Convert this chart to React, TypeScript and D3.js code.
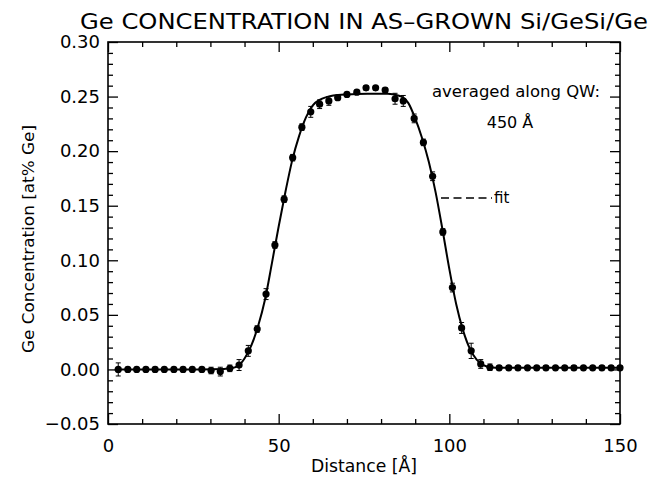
import React, { useRef, useEffect } from "react";
import * as d3 from "d3";

// measured points (distance in Å, Ge fraction) and error bars
const distance = [
  3.0, 5.8, 8.4, 11.1, 13.8, 16.5, 19.3, 22.0, 24.7, 27.5, 30.2, 32.9, 35.7, 38.4,
  41.1, 43.7, 46.3, 48.9, 51.6, 54.1, 56.8, 59.4, 62.0, 64.7, 67.3, 70.0, 72.9,
  75.6, 78.4, 81.2, 84.1, 86.5, 89.7, 92.4, 95.1, 98.1, 100.9, 103.6, 106.4,
  109.2, 111.9, 114.6, 117.4, 120.1, 122.9, 125.6, 128.3, 131.1, 133.8, 136.5,
  139.3, 142.0, 144.7, 147.4, 150.0,
];
const concentration = [
  0.0, 0.0, 0.0, 0.0, 0.0, 0.0, 0.0, 0.0, 0.0, 0.0, -0.001, -0.002, 0.001, 0.004,
  0.017, 0.037, 0.069, 0.114, 0.156, 0.194, 0.222, 0.236, 0.243, 0.246, 0.249,
  0.252, 0.254, 0.258, 0.258, 0.256, 0.248, 0.246, 0.23, 0.208, 0.177, 0.126,
  0.075, 0.038, 0.017, 0.005, 0.002, 0.0015, 0.0015, 0.0015, 0.0015, 0.0015,
  0.0015, 0.0015, 0.0015, 0.0015, 0.0015, 0.0015, 0.0015, 0.0015, 0.0015,
];
const errors = [
  0.006, 0.002, 0.002, 0.002, 0.002, 0.002, 0.002, 0.002, 0.002, 0.002, 0.003,
  0.004, 0.003, 0.005, 0.005, 0.003, 0.005, 0.003, 0.003, 0.003, 0.003, 0.005,
  0.004, 0.004, 0.002, 0.002, 0.002, 0.002, 0.002, 0.002, 0.005, 0.005, 0.004,
  0.003, 0.004, 0.003, 0.004, 0.005, 0.007, 0.004, 0.003, 0.002, 0.002, 0.002,
  0.002, 0.002, 0.002, 0.002, 0.002, 0.002, 0.002, 0.002, 0.002, 0.002, 0.002,
];

// fit curve
const fitX = [
  2, 20, 34, 36, 38, 40, 42, 44, 46, 48, 50, 52, 54, 56, 58, 60, 62, 64, 66, 70,
  76, 82, 85, 86, 88, 90, 92, 94, 96, 98, 100, 102, 104, 106, 108, 110, 112, 115,
  130, 150,
];
const fitY = [
  0, 0, 0.0005, 0.001, 0.003, 0.01, 0.022, 0.04, 0.064, 0.097, 0.131, 0.163,
  0.192, 0.214, 0.231, 0.242, 0.247, 0.2495, 0.251, 0.252, 0.2525, 0.2525, 0.251,
  0.25, 0.244, 0.23, 0.212, 0.19, 0.162, 0.128, 0.092, 0.06, 0.036, 0.019, 0.009,
  0.004, 0.002, 0.0015, 0.0015, 0.0015,
];

const xMajor = [0, 50, 100, 150];
const xMinor = [10, 20, 30, 40, 60, 70, 80, 90, 110, 120, 130, 140];
const yMajor = [-0.05, 0, 0.05, 0.1, 0.15, 0.2, 0.25, 0.3];
const yMinor = [
  -0.04, -0.03, -0.02, -0.01, 0.01, 0.02, 0.03, 0.04, 0.06, 0.07, 0.08, 0.09,
  0.11, 0.12, 0.13, 0.14, 0.16, 0.17, 0.18, 0.19, 0.21, 0.22, 0.23, 0.24, 0.26,
  0.27, 0.28, 0.29,
];

const font = "'DejaVu Sans', sans-serif";

const App = () => {
  const svgRef = useRef<SVGSVGElement>(null);

  useEffect(() => {
    const svg = d3.select(svgRef.current);
    svg.selectAll("*").remove();

    const left = 108, right = 620, top = 42, bottom = 424;
    const x = d3.scaleLinear().domain([0, 150]).range([left, right]);
    const y = d3.scaleLinear().domain([-0.05, 0.3]).range([bottom, top]);

    // axes, ticks inward
    const styleAxis = (g) => {
      g.select(".domain").remove();
      g.selectAll("line").attr("stroke", "#000").attr("stroke-width", 1.3);
      g.selectAll("text").attr("font-family", font).attr("font-size", 18).attr("fill", "#000");
    };

    svg.append("g").attr("transform", `translate(0,${bottom})`)
      .call(d3.axisBottom(x).tickValues(xMajor).tickSize(-10).tickPadding(15).tickFormat(d3.format("d")))
      .call(styleAxis);
    svg.append("g").attr("transform", `translate(0,${bottom})`)
      .call(d3.axisBottom(x).tickValues(xMinor).tickSize(-5).tickFormat(() => ""))
      .call(styleAxis);
    svg.append("g").attr("transform", `translate(0,${top})`)
      .call(d3.axisTop(x).tickValues(xMajor).tickSize(-10).tickFormat(() => ""))
      .call(styleAxis);
    svg.append("g").attr("transform", `translate(0,${top})`)
      .call(d3.axisTop(x).tickValues(xMinor).tickSize(-5).tickFormat(() => ""))
      .call(styleAxis);

    svg.append("g").attr("transform", `translate(${left},0)`)
      .call(d3.axisLeft(y).tickValues(yMajor).tickSize(-10).tickPadding(8).tickFormat(d3.format(".2f")))
      .call(styleAxis);
    svg.append("g").attr("transform", `translate(${left},0)`)
      .call(d3.axisLeft(y).tickValues(yMinor).tickSize(-5).tickFormat(() => ""))
      .call(styleAxis);
    svg.append("g").attr("transform", `translate(${right},0)`)
      .call(d3.axisRight(y).tickValues(yMajor).tickSize(-10).tickFormat(() => ""))
      .call(styleAxis);
    svg.append("g").attr("transform", `translate(${right},0)`)
      .call(d3.axisRight(y).tickValues(yMinor).tickSize(-5).tickFormat(() => ""))
      .call(styleAxis);

    svg.append("rect")
      .attr("x", left).attr("y", top)
      .attr("width", right - left).attr("height", bottom - top)
      .attr("fill", "none").attr("stroke", "#000").attr("stroke-width", 1.6);

    // fit
    const line = d3.line<number>()
      .x((d, i) => x(fitX[i]))
      .y((d) => y(d))
      .curve(d3.curveMonotoneX);
    svg.append("path")
      .attr("d", line(fitY))
      .attr("fill", "none").attr("stroke", "#000").attr("stroke-width", 2);

    // error bars
    const eb = svg.append("g").attr("stroke", "#000").attr("stroke-width", 1);
    concentration.forEach((c, i) => {
      const cx = x(distance[i]);
      const e = errors[i];
      eb.append("line").attr("x1", cx).attr("x2", cx).attr("y1", y(c - e)).attr("y2", y(c + e));
      eb.append("line").attr("x1", cx - 2.5).attr("x2", cx + 2.5).attr("y1", y(c - e)).attr("y2", y(c - e));
      eb.append("line").attr("x1", cx - 2.5).attr("x2", cx + 2.5).attr("y1", y(c + e)).attr("y2", y(c + e));
    });

    svg.append("g").selectAll("circle")
      .data(concentration)
      .enter()
      .append("circle")
      .attr("cx", (d, i) => x(distance[i]))
      .attr("cy", (d) => y(d))
      .attr("r", 3.6)
      .attr("fill", "#000");

    // texts
    svg.append("text")
      .attr("x", 80).attr("y", 29)
      .attr("font-family", font).attr("font-size", 21)
      .attr("textLength", 568).attr("lengthAdjust", "spacingAndGlyphs")
      .text("Ge CONCENTRATION IN AS\u2013GROWN Si/GeSi/Ge");

    svg.append("text")
      .attr("transform", `translate(34,239) rotate(-90)`)
      .attr("text-anchor", "middle")
      .attr("font-family", font).attr("font-size", 16)
      .attr("textLength", 228).attr("lengthAdjust", "spacingAndGlyphs")
      .text("Ge Concentration [at% Ge]");

    svg.append("text")
      .attr("x", 364).attr("y", 472)
      .attr("text-anchor", "middle")
      .attr("font-family", font).attr("font-size", 17)
      .attr("textLength", 106).attr("lengthAdjust", "spacingAndGlyphs")
      .text("Distance [Å]");

    svg.append("text")
      .attr("x", 432).attr("y", 97)
      .attr("font-family", font).attr("font-size", 15)
      .attr("textLength", 168).attr("lengthAdjust", "spacingAndGlyphs")
      .text("averaged along QW:");
    svg.append("text")
      .attr("x", 510).attr("y", 128)
      .attr("text-anchor", "middle")
      .attr("font-family", font).attr("font-size", 16)
      .text("450 Å");

    svg.append("line")
      .attr("x1", 441).attr("x2", 492).attr("y1", 198).attr("y2", 198)
      .attr("stroke", "#000").attr("stroke-width", 1.5).attr("stroke-dasharray", "8,4.5");
    svg.append("text")
      .attr("x", 494).attr("y", 203)
      .attr("font-family", font).attr("font-size", 15)
      .text("fit");
  }, []);

  return (
    <svg
      ref={svgRef}
      width={655}
      height={478}
      style={{ position: "absolute", left: 0, top: 0, background: "#fff" }}
    ></svg>
  );
};

export default App;
